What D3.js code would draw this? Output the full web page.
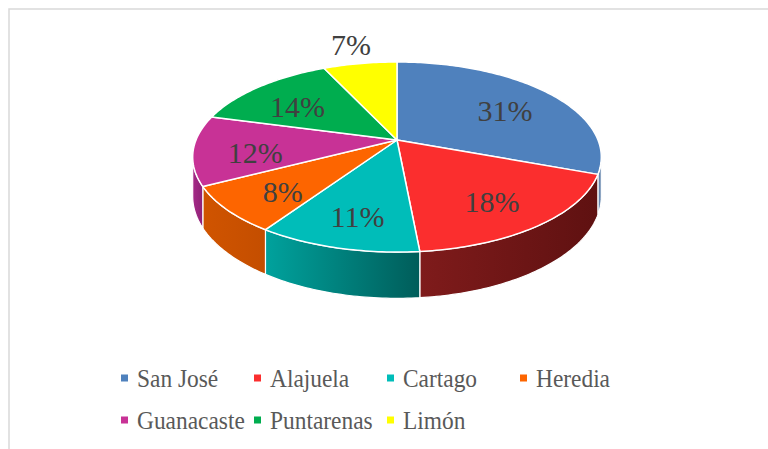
<!DOCTYPE html>
<html>
<head>
<meta charset="utf-8">
<script src="https://cdn.jsdelivr.net/npm/d3@7"></script>
<style>
  html, body { margin: 0; padding: 0; background: #fff; }
  svg { display: block; }
</style>
</head>
<body>
<div id="chart"></div>
<script>
// provinces and their share (%)
var provinces = ['San José', 'Alajuela', 'Cartago', 'Heredia', 'Guanacaste', 'Puntarenas', 'Limón'];
var shares = [31, 18, 11, 8, 12, 14, 7];

// colors for the top faces and the (left, right) shading of the side walls
var topColors = ['#4f81bd', '#fb2e2e', '#00bdb9', '#fd6500', '#c83296', '#00ad4f', '#ffff00'];
var sideColors = [
  ['#6f8fb5', '#5a7ca6'],
  ['#7f1b1b', '#5f1111'],
  ['#00a29d', '#005d5a'],
  ['#d05400', '#c44e00'],
  ['#a62a88', '#8e2276'],
  ['#008a3e', '#007033'],
  ['#c8c800', '#b0b000']
];

(function(d3) {
  'use strict';

  var width = 768, height = 449;
  var cx = 397, cy = 140;     // apex of the pie
  var RX = 201, RY = 92;      // radii of the top face
  var B = 0.179;              // perspective strength
  var H = 38;                 // thickness

  var svg = d3.select('#chart').append('svg')
    .attr('width', width)
    .attr('height', height);

  // frame (top and left border of the chart area)
  svg.append('path')
    .attr('d', 'M9,449 V9 H768')
    .attr('fill', 'none')
    .attr('stroke', '#d9d9d9')
    .attr('stroke-width', 1.5);

  var data = provinces.map(function(p, i) {
    return { name: p, value: shares[i], top: topColors[i], side: sideColors[i] };
  });

  var pie = d3.pie()
    .value(function(d) { return d.value; })
    .sort(null);

  var arcs = pie(data);
  var total = d3.sum(shares);

  // theta: 0 at the back (12 o'clock), clockwise
  function proj(theta, r, drop) {
    var X = r * Math.sin(theta);
    var Z = -r * Math.cos(theta);
    var s = 1 / (1 - B * Z);
    return [cx + RX * X * s, cy + RY * Z * s + (drop || 0) * s];
  }

  function arcPoints(a0, a1, r, drop) {
    var n = Math.max(2, Math.ceil(Math.abs(a1 - a0) / (Math.PI / 180)));
    var pts = [];
    for (var k = 0; k <= n; k++) {
      pts.push(proj(a0 + (a1 - a0) * k / n, r, drop));
    }
    return pts;
  }

  var line = d3.line().curve(d3.curveLinear);
  var defs = svg.append('defs');

  // side walls: only the part that faces the viewer
  var visStart = Math.acos(-B);
  var visEnd = 2 * Math.PI - visStart;
  var sides = svg.append('g');

  arcs.forEach(function(a, i) {
    var a0 = Math.max(a.startAngle, visStart);
    var a1 = Math.min(a.endAngle, visEnd);
    if (a1 <= a0) return;
    var topPts = arcPoints(a0, a1, 1, 0);
    var botPts = arcPoints(a1, a0, 1, H);
    var pts = topPts.concat(botPts);
    var xs = pts.map(function(p) { return p[0]; });

    var grad = defs.append('linearGradient')
      .attr('id', 'side' + i)
      .attr('gradientUnits', 'userSpaceOnUse')
      .attr('x1', d3.min(xs)).attr('x2', d3.max(xs))
      .attr('y1', 0).attr('y2', 0);
    grad.append('stop').attr('offset', '0%').attr('stop-color', a.data.side[0]);
    grad.append('stop').attr('offset', '100%').attr('stop-color', a.data.side[1]);

    sides.append('path')
      .attr('d', line(pts) + 'Z')
      .attr('fill', 'url(#side' + i + ')')
      .attr('stroke', '#fff')
      .attr('stroke-width', 1.2)
      .attr('stroke-linejoin', 'round');
  });

  // top faces
  var tops = svg.append('g');
  arcs.forEach(function(a) {
    var pts = [proj(0, 0, 0)].concat(arcPoints(a.startAngle, a.endAngle, 1, 0));
    tops.append('path')
      .attr('d', line(pts) + 'Z')
      .attr('fill', a.data.top)
      .attr('stroke', '#fff')
      .attr('stroke-width', 1.5)
      .attr('stroke-linejoin', 'round');
  });

  // data labels
  var labels = svg.append('g')
    .attr('font-family', '"Liberation Serif", "Times New Roman", serif')
    .attr('font-size', 30)
    .attr('fill', '#404040')
    .attr('text-anchor', 'middle');

  arcs.forEach(function(a) {
    var mid = (a.startAngle + a.endAngle) / 2;
    var outside = a.data.value / total < 0.075;
    var p = outside ? proj(mid, 1.3, 0) : proj(mid, 0.7, 0);
    labels.append('text')
      .attr('x', p[0])
      .attr('y', p[1] + (outside ? 0 : 5))
      .attr('dy', '0.35em')
      .text(a.data.value + '%');
  });

  // legend
  var legend = svg.append('g')
    .attr('font-family', '"Liberation Serif", "Times New Roman", serif')
    .attr('font-size', 26)
    .attr('fill', '#595959');

  data.forEach(function(d, i) {
    var col = i % 4, row = Math.floor(i / 4);
    var x = 121 + col * 133;
    var y = 378 + row * 42;
    legend.append('rect')
      .attr('x', x).attr('y', y - 3.5)
      .attr('width', 7).attr('height', 7)
      .attr('fill', d.top);
    legend.append('text')
      .attr('transform', 'translate(' + (x + 16) + ',' + (y + 9) + ') scale(0.9,1)')
      .text(d.name);
  });

})(window.d3);
</script>
</body>
</html>
